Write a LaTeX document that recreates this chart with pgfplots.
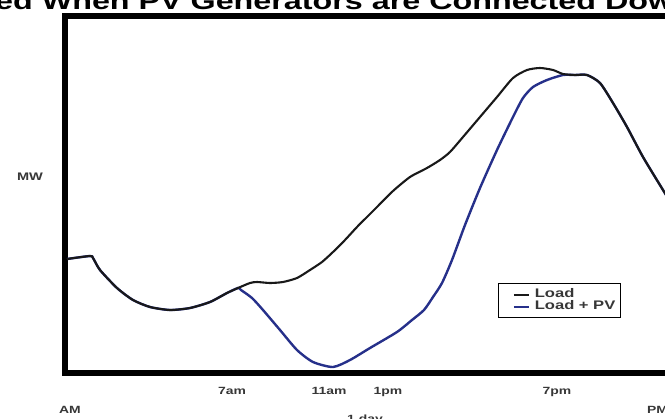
\documentclass[border=0pt]{standalone}
\usepackage{graphicx}
\usepackage{fontspec}
\setmainfont{Liberation Sans}
\usepackage{pgfplots}
\pgfplotsset{compat=1.18}

\definecolor{pvblue}{RGB}{38,48,138}
\definecolor{lblgray}{RGB}{55,55,55}
\newcommand{\sx}[1]{\scalebox{1.33}[1]{#1}}

\begin{document}
\begin{tikzpicture}
\begin{axis}[
    at={(65bp,-373bp)}, anchor=south west,
    width=640bp, height=357bp, scale only axis,
    xmin=0, xmax=640, ymin=0, ymax=357,
    axis line style={line width=6bp, black},
    ytick=\empty,
    xtick={167,264,323,492},
    xticklabels={\sx{7am},\sx{11am},\sx{1pm},\sx{7pm}},
    major tick length=0pt,
    xticklabel style={anchor=base, yshift=-21bp, inner sep=0pt,
        font=\fontsize{10.5}{11}\selectfont\bfseries, text=lblgray},
    clip=false,
    reverse legend,
    legend style={at={(axis cs:433,90)}, anchor=north west,
        draw=black, line width=1.2bp, fill=white,
        inner xsep=4bp, inner ysep=5bp, row sep=0pt, column sep=4bp,
        font=\fontsize{12.5}{13}\selectfont\bfseries,
        nodes={inner sep=1bp, text height=8bp, text depth=2bp, text=lblgray},
        cells={anchor=west}},
    legend image code/.code={\path (0bp,0bp); \draw[#1, line width=2bp] (10bp,0bp) -- (25bp,0bp);},
]
% Load + PV (drawn first, lies under the load curve where they coincide)
\addplot[pvblue, line width=2.4bp, smooth, tension=0.4] coordinates {
    (2,114)(25,117)(28,115)(35,103)(52,85)(68,73)(85,66)(105,63)(125,65)
    (145,71)(162,80)(173,85)(176,83)(187,75)(198,63)(215,43)(232,23)
    (248,11)(268,6)(285,13)(305,25)(332,41)(347,53)(359,63)(368,76)
    (377,90)(387,113)(400,148)(415,185)(432,223)(448,256)(458,275)
    (468,286)(482,293)(498,298)(510,298)(522,298)(535,290)(548,270)
    (562,246)(578,216)(598,183)(620,147)
};
\addlegendentry{\sx{Load + PV}}
% Load
\addplot[black!90, line width=2.1bp, smooth, tension=0.4] coordinates {
    (2,114)(25,117)(28,115)(35,103)(52,85)(68,73)(85,66)(105,63)(125,65)
    (145,71)(162,80)(173,85)(185,90)(192,91)(205,90)(218,91)(232,95)
    (245,103)(257,111)(268,121)(280,133)(292,146)(302,156)(312,166)
    (328,182)(345,196)(362,205)(375,213)(385,221)(398,236)(415,256)
    (432,276)(448,295)(462,303)(475,305)(488,303)(498,299)(510,298)
    (522,298)(535,290)(548,270)(562,246)(578,216)(598,183)(620,147)
};
\addlegendentry{\sx{Load}}
\end{axis}
% title, cut by the top edge of the picture
\node[anchor=base west, inner sep=0pt, font=\fontsize{24}{26}\selectfont\bfseries]
    at (-5bp,-9bp) {\scalebox{1.35}[1]{ed When PV Generators are Connected Dow}};
\node[inner sep=0pt, font=\fontsize{11}{12}\selectfont\bfseries, text=lblgray]
    at (30bp,-177bp) {\sx{MW}};
\node[anchor=base, inner sep=0pt, font=\fontsize{10.5}{11}\selectfont\bfseries, text=lblgray]
    at (70bp,-413bp) {\sx{AM}};
\node[anchor=base, inner sep=0pt, font=\fontsize{10.5}{11}\selectfont\bfseries, text=lblgray]
    at (365bp,-422bp) {\sx{1 day}};
\node[anchor=base west, inner sep=0pt, font=\fontsize{10.5}{11}\selectfont\bfseries, text=lblgray]
    at (647bp,-413bp) {\sx{PM}};
\pgfresetboundingbox
\path[use as bounding box] (0bp,0bp) rectangle (665bp,-419bp);
\end{tikzpicture}
\end{document}
